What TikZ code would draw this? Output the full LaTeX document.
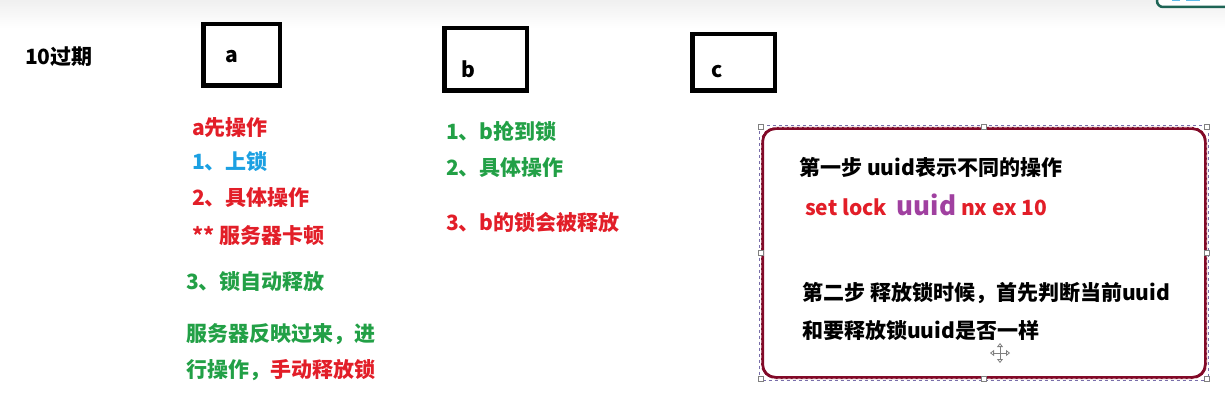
\documentclass[tikz,border=0pt]{standalone}
\usepackage{fontspec}
\setmainfont{Noto Sans CJK SC}
\usetikzlibrary{arrows.meta}
\definecolor{lockred}{RGB}{226,30,40}
\definecolor{lockgreen}{RGB}{34,160,70}
\definecolor{lockblue}{RGB}{27,160,226}
\definecolor{lockpurple}{RGB}{160,64,160}
\definecolor{noteborder}{RGB}{130,10,40}
\definecolor{selframe}{RGB}{120,110,170}
\definecolor{uiteal}{RGB}{30,100,85}

\begin{document}
\begin{tikzpicture}[x=1pt,y=-1pt,
    every node/.style={font=\bfseries\fontsize{21}{21}\selectfont},
    txt/.style={anchor=west,inner sep=0pt},
    clientbox/.style={draw=black,line width=4.5pt,minimum width=#1,inner sep=0pt},
    notebox/.style={draw=noteborder,line width=3pt,rounded corners=13pt,
      minimum width=443pt,minimum height=249pt,inner sep=0pt},
    handle/.style={draw=gray,fill=white,line width=0.6pt,minimum size=5pt,inner sep=0pt},
  ]
  \useasboundingbox (0,0) rectangle (1225,403);
  % window chrome
  \shade[top color=gray!12,bottom color=white] (0,0) rectangle (1225,28);
  \begin{scope}
    \clip (0,0) rectangle (1225,403);
    \draw[uiteal,line width=2.5pt,rounded corners=6pt,fill=white] (1157,-20) rectangle (1245,7);
    \fill[lockblue!70] (1172,-5) rectangle (1180,1);
    \fill[lockblue!70] (1186,-5) rectangle (1200,1);
  \end{scope}

  \node[txt] (expire) at (25,57) {10过期};

  % clients
  \node[clientbox=76.5pt,minimum height=61.5pt] (boxa) at (241.5,55) {};
  \node[clientbox=82.5pt,minimum height=62.5pt] (boxb) at (485.5,59.5) {};
  \node[clientbox=82.5pt,minimum height=56.5pt] (boxc) at (733.5,62.5) {};
  \node (laba) at (232,57) {a};
  \node (labb) at (468,69) {b};
  \node (labc) at (717,72) {c};

  % client a
  \node[txt,lockred]   (a0) at (192,128) {a先操作};
  \node[txt,lockblue]  (a1) at (192,162) {1、上锁};
  \node[txt,lockred]   (a2) at (192,198) {2、具体操作};
  \node[txt,lockred]   (a3) at (192,236) {** 服务器卡顿};
  \node[txt,lockgreen] (a4) at (186,282) {3、锁自动释放};
  \node[txt,lockgreen] (a5) at (186,334) {服务器反映过来，进};
  \node[txt,lockgreen] (a6) at (186,370) {行操作，\textcolor{lockred}{手动释放锁}};

  % client b
  \node[txt,lockgreen] (b1) at (446,131) {1、b抢到锁};
  \node[txt,lockgreen] (b2) at (446,168) {2、具体操作};
  \node[txt,lockred]   (b3) at (446,222) {3、b的锁会被释放};

  % note
  \node[notebox] (note) at (984,253) {};
  \draw[white,line width=0.7pt,dash pattern=on 3pt off 2pt,rounded corners=13pt]
    (note.north west) rectangle (note.south east);
  \draw[selframe,line width=0.5pt,dash pattern=on 3pt off 3pt]
    ([shift={(-1.5,-1.5)}]note.north west) rectangle ([shift={(1.5,1.5)}]note.south east);
  \foreach \anc in {north west,north,north east,east,south east,south,south west,west}
    \node[handle] (h-\anc) at (note.\anc) {};

  \node[txt] (step1) at (799,167) {第一步 uuid表示不同的操作};
  \node[txt,lockred] (cmd) at (805,205)
    {set lock \ \textcolor{lockpurple}{\fontsize{26}{26}\selectfont uuid} nx ex 10};
  \node[txt] (step2a) at (802,293) {第二步 释放锁时候，首先判断当前uuid};
  \node[txt] (step2b) at (802,330) {和要释放锁uuid是否一样};

  % move cursor
  \coordinate (mv) at (1000,353);
  \foreach \ang in {0,90,180,270}
    \draw[gray,line width=0.8pt,-{Triangle[open,length=4pt,width=6pt]}] (mv) -- ++(\ang:10);
\end{tikzpicture}
\end{document}
